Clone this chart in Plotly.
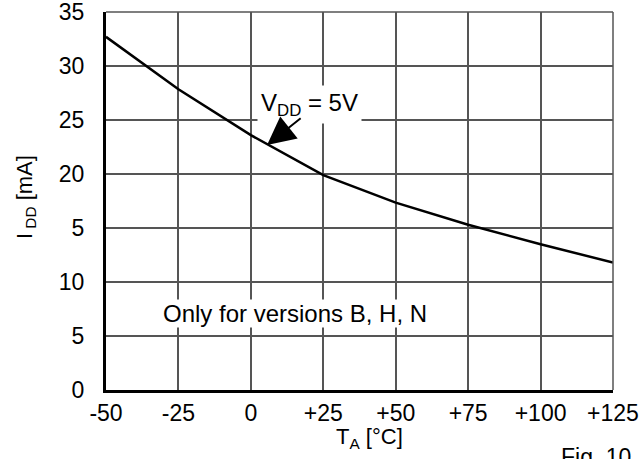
import plotly.graph_objects as go

# Data
temps = [-50, -25, 0, 25, 50, 75, 100, 125]
idd_ma = [32.7, 27.85, 23.6, 19.9, 17.35, 15.3, 13.5, 11.8]

x_tickvals = [-50, -25, 0, 25, 50, 75, 100, 125]
x_ticktext = ["-50", "-25", "0", "+25", "+50", "+75", "+100", "+125"]
y_tickvals = [0, 5, 10, 15, 20, 25, 30, 35]
y_ticktext = ["0", "5", "10", "5", "20", "25", "30", "35"]

FONT = "Liberation Sans, Arial, sans-serif"
GRID = "#555555"

fig = go.Figure()
fig.add_trace(go.Scatter(x=temps, y=idd_ma, mode="lines",
                         line=dict(color="black", width=2.5),
                         hoverinfo="skip", showlegend=False))

fig.update_layout(
    width=643, height=459,
    margin=dict(l=106, r=30, t=12, b=69, autoexpand=False),
    paper_bgcolor="white", plot_bgcolor="white",
    font=dict(family=FONT, size=23, color="black"),
    showlegend=False,
)
fig.update_xaxes(range=[-50.001, 125.001], tickvals=x_tickvals, ticktext=x_ticktext,
                 showgrid=True, gridcolor=GRID, gridwidth=1.5,
                 showline=True, linecolor="black", linewidth=3,
                 zeroline=False, ticks="", ticklabelstandoff=0, automargin=False,
                 ticklabeloverflow="allow",
                 tickfont=dict(family=FONT, size=23))
fig.update_yaxes(range=[-0.001, 35.001], tickvals=y_tickvals, ticktext=y_ticktext,
                 showgrid=True, gridcolor=GRID, gridwidth=1.5,
                 showline=True, linecolor="black", linewidth=3,
                 zeroline=False, ticks="", ticklabelstandoff=14, automargin=False,
                 ticklabeloverflow="allow",
                 tickfont=dict(family=FONT, size=23))

# right and top frame (gray like grid)
fig.add_shape(type="line", xref="paper", yref="paper", x0=1, x1=1, y0=0, y1=1,
              line=dict(color=GRID, width=1.5))
fig.add_shape(type="line", xref="paper", yref="paper", x0=0, x1=1, y0=1, y1=1,
              line=dict(color=GRID, width=1.5))

fig.add_annotation(x=20.4, y=26.4, xref="x", yref="y",
                   text="V<sub>DD</sub> = 5V", showarrow=False,
                   font=dict(family=FONT, size=24), bgcolor="white", borderpad=3)
fig.add_annotation(x=5.6, y=22.69, ax=17.7, ay=25.28, xref="x", yref="y",
                   axref="x", ayref="y", text="", showarrow=True,
                   arrowhead=2, arrowwidth=2, arrowsize=2.8, arrowcolor="black")
fig.add_annotation(x=15.3, y=7.04, xref="x", yref="y",
                   text="Only for versions B, H, N", showarrow=False,
                   font=dict(family=FONT, size=24), bgcolor="white", borderpad=0)

fig.add_annotation(x=-0.158, y=0.51, xref="paper", yref="paper",
                   xanchor="center", yanchor="middle",
                   text="I<sub> DD</sub> [mA]", textangle=-90, showarrow=False,
                   font=dict(family=FONT, size=22))
fig.add_annotation(x=0.519, y=-0.127, xref="paper", yref="paper",
                   xanchor="center", yanchor="middle",
                   text="T<sub>A</sub> [°C]", showarrow=False,
                   font=dict(family=FONT, size=22))
fig.add_annotation(x=1.039, y=-0.177, xref="paper", yref="paper",
                   xanchor="right", yanchor="middle",
                   text="Fig. 10", showarrow=False,
                   font=dict(family=FONT, size=23))

fig.write_html("out.html", config={"displayModeBar": False},
               post_script="document.body.style.margin='0';document.body.style.overflow='hidden';")
